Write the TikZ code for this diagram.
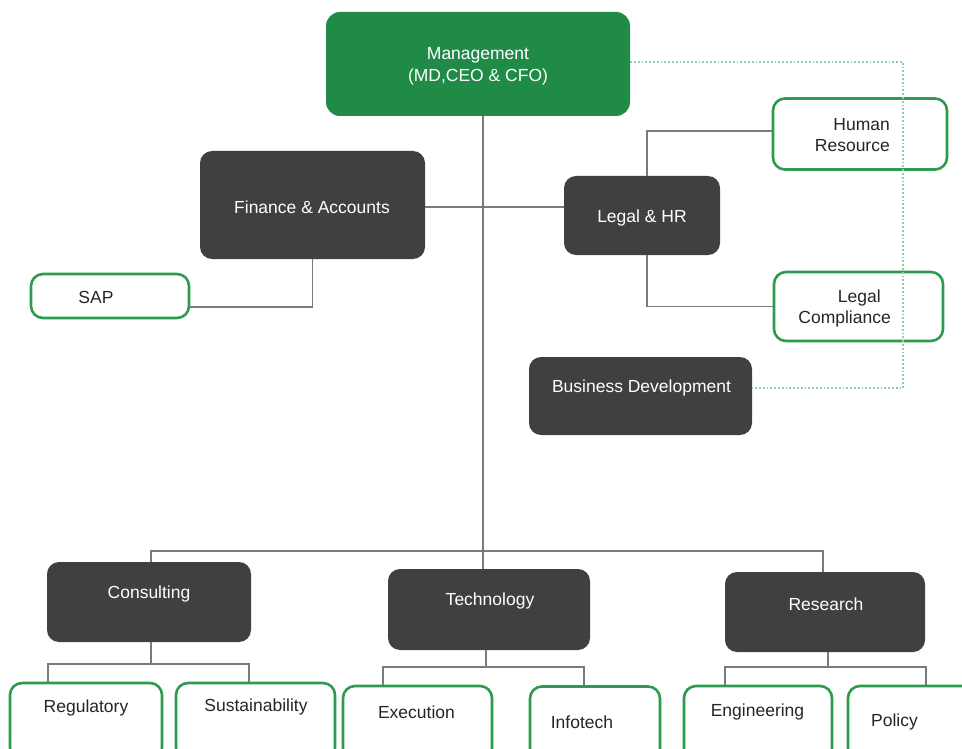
\documentclass[tikz,border=0pt]{standalone}
\usepackage{fontspec}
\setmainfont{Liberation Sans}
\usetikzlibrary{calc}
\definecolor{darkbox}{HTML}{404040}
\definecolor{mgreen}{HTML}{1F8B47}
\definecolor{gborder}{HTML}{2E9A4E}
\definecolor{dotgreen}{HTML}{8FCFA0}
\definecolor{lineg}{HTML}{7A7A7A}
\definecolor{txtdark}{HTML}{262626}
\tikzset{
  darkbox/.style={fill=darkbox, draw=none, rounded corners=12pt, inner sep=0pt},
  mgmtbox/.style={fill=mgreen, draw=none, rounded corners=14pt, inner sep=0pt},
  greenbox/.style={draw=gborder, line width=2.6pt, fill=white, rounded corners=12pt, inner sep=0pt},
  wtext/.style={text=white, inner sep=0pt, font=\fontsize{17.5}{22}\selectfont, align=center},
  dtext/.style={text=txtdark, inner sep=0pt, font=\fontsize{17.5}{21}\selectfont, align=center},
  conn/.style={draw=lineg, line width=1.4pt},
  dotconn/.style={draw=dotgreen, line width=1.8pt, dotted}
}
\begin{document}
\begin{tikzpicture}[x=1pt,y=-1pt]
\useasboundingbox (0,0) rectangle (962,749);
\clip (0,0) rectangle (962,749);
\fill[white] (0,0) rectangle (962,749);

% ---------- boxes ----------
\node[mgmtbox, minimum width=304pt, minimum height=104pt] (mgmt) at (478,64) {};
\node[darkbox, minimum width=225pt, minimum height=108pt] (fin) at (312.5,205) {};
\node[greenbox, minimum width=158pt, minimum height=44pt] (sap) at (110,296) {};
\node[darkbox, minimum width=156pt, minimum height=79pt] (legal) at (642,215.5) {};
\node[greenbox, minimum width=174pt, minimum height=71pt] (hr) at (860,134) {};
\node[greenbox, minimum width=169pt, minimum height=69pt] (lc) at (858.5,306.5) {};
\node[darkbox, minimum width=223pt, minimum height=78pt] (busdev) at (640.5,396) {};
\node[darkbox, minimum width=204pt, minimum height=80pt] (cons) at (149,602) {};
\node[darkbox, minimum width=202pt, minimum height=81pt] (tech) at (489,609.5) {};
\node[darkbox, minimum width=200pt, minimum height=80pt] (res) at (825,612) {};
\node[greenbox, minimum width=152pt, minimum height=77pt] (reg) at (86,721.5) {};
\node[greenbox, minimum width=159pt, minimum height=77pt] (sus) at (255.5,721.5) {};
\node[greenbox, minimum width=149pt, minimum height=77pt] (exe) at (417.5,724.5) {};
\node[greenbox, minimum width=130pt, minimum height=77pt] (info) at (595,725) {};
\node[greenbox, minimum width=148pt, minimum height=77pt] (eng) at (758,724.5) {};
\node[greenbox, minimum width=132pt, minimum height=77pt] (pol) at (914,724.5) {};

% ---------- junction coordinates ----------
\coordinate (trunk) at (483,551);
\coordinate (busl) at (151,551);
\coordinate (busr) at (823,551);
\coordinate (lx) at (647,0);
\coordinate (hrline) at (0,131);
\coordinate (sapline) at (0,307);
\coordinate (finline) at (0,207);
\coordinate (cbl) at (48,664);
\coordinate (cb) at (151,664);
\coordinate (cbr) at (249,664);
\coordinate (tbl) at (383,667);
\coordinate (tb) at (486,667);
\coordinate (tbr) at (584,667);
\coordinate (rbl) at (725,667);
\coordinate (rb) at (828,667);
\coordinate (rbr) at (926,667);
\coordinate (dotc) at (903,388);

% ---------- connectors ----------
\draw[conn] (mgmt.south -| trunk) -- (tech.north -| trunk);
\draw[conn] (cons.north -| busl) -- (busl) -- (busr) -- (res.north -| busr);
\draw[conn] (fin.east |- finline) -- (legal.west |- finline);
\draw[conn] (fin.south) |- (sap.east |- sapline);
\draw[conn] (legal.north -| lx) |- (hr.west |- hrline);
\draw[conn] (legal.south -| lx) |- (lc.west);
\draw[conn] (cons.south -| cb) -- (cb);
\draw[conn] (reg.north -| cbl) -- (cbl) -- (cbr) -- (sus.north -| cbr);
\draw[conn] (tech.south -| tb) -- (tb);
\draw[conn] (exe.north -| tbl) -- (tbl) -- (tbr) -- (info.north -| tbr);
\draw[conn] (res.south -| rb) -- (rb);
\draw[conn] (eng.north -| rbl) -- (rbl) -- (rbr) -- (pol.north -| rbr);

% ---------- texts ----------
\node[wtext] (mgmt-t) at (478,66) {Management\\(MD,CEO \& CFO)};
\node[wtext] (fin-t) at (312,207) {Finance \& Accounts};
\node[dtext] (sap-t) at (96,297) {SAP};
\node[wtext] (legal-t) at (642,218) {Legal \& HR};
\node[dtext, align=right, anchor=east] (hr-t) at (890,135.5) {Human\\Resource};
\node[dtext, align=right, anchor=east] (lc-t) at (891,308.5) {Legal\hspace*{10pt}\\Compliance};
\node[wtext] (busdev-t) at (641.5,388) {Business Development};
\node[wtext] (cons-t) at (149,594) {Consulting};
\node[wtext] (tech-t) at (490,601) {Technology};
\node[wtext] (res-t) at (826,604) {Research};
\node[dtext] (reg-t) at (86,708) {Regulatory};
\node[dtext] (sus-t) at (256,707) {Sustainability};
\node[dtext] (exe-t) at (416.5,712) {Execution};
\node[dtext] (info-t) at (582,722) {Infotech};
\node[dtext] (eng-t) at (757.5,712) {Engineering};
\node[dtext] (pol-t) at (894.5,722) {Policy};

% ---------- dotted reporting line ----------
\draw[dotconn] (mgmt.east |- 0,62) -| (dotc) -- (busdev.east |- dotc);
\end{tikzpicture}
\end{document}
